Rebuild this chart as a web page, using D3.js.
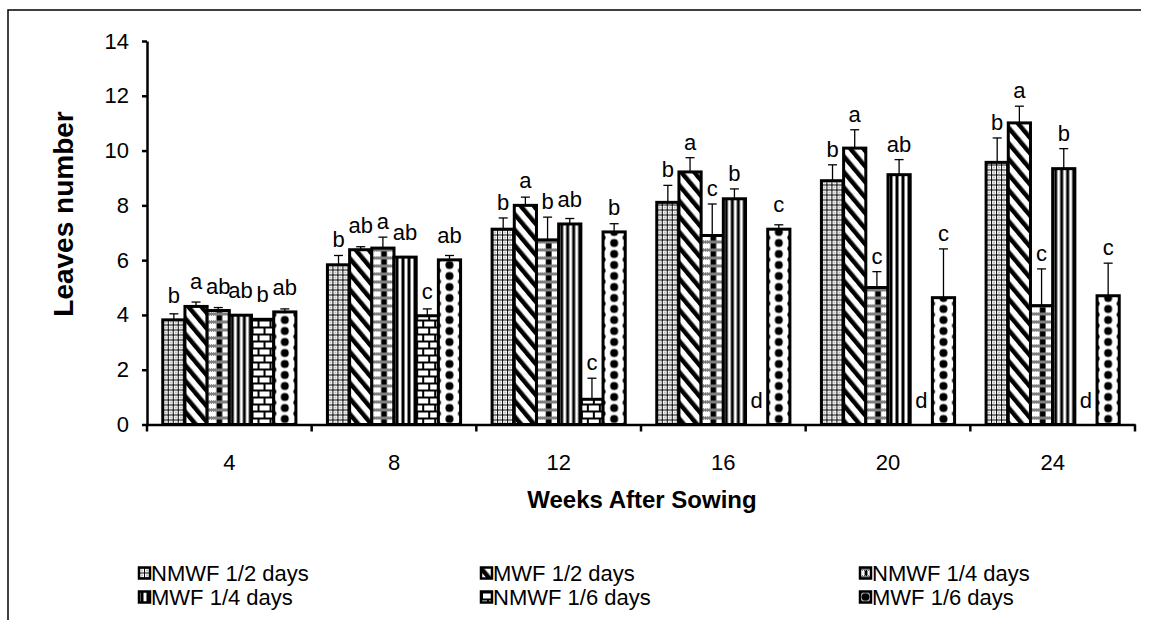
<!DOCTYPE html>
<html>
<head>
<meta charset="utf-8">
<script src="https://cdn.jsdelivr.net/npm/d3@7"></script>
<style>
  html, body { margin: 0; padding: 0; background: #fff; }
  svg { display: block; font-family: "Liberation Sans", Arial, sans-serif; }
</style>
</head>
<body>
<svg id="chart" width="1149" height="620"></svg>
<script>
// ---- data ----
const groups = ["4", "8", "12", "16", "20", "24"];
const seriesNames = ["NMWF 1/2 days", "MWF 1/2 days", "NMWF 1/4 days", "MWF 1/4 days", "NMWF 1/6 days", "MWF 1/6 days"];
const nmwf2 = [3.82, 5.83, 7.13, 8.11, 8.90, 9.57];
const mwf2  = [4.31, 6.38, 8.00, 9.22, 10.09, 11.01];
const nmwf4 = [4.16, 6.44, 6.74, 6.90, 5.00, 4.34];
const mwf4  = [3.99, 6.11, 7.32, 8.24, 9.12, 9.34];
const nmwf6 = [3.84, 3.97, 0.92, 0, 0, 0];
const mwf6  = [4.11, 6.01, 7.03, 7.13, 4.63, 4.70];
const errNmwf2 = [0.22, 0.34, 0.41, 0.62, 0.58, 0.89];
const errMwf2  = [0.16, 0.11, 0.30, 0.52, 0.67, 0.61];
const errNmwf4 = [0.11, 0.40, 0.83, 1.15, 0.58, 1.34];
const errMwf4  = [0.02, 0.02, 0.20, 0.36, 0.55, 0.73];
const errNmwf6 = [0.02, 0.25, 0.77, 0, 0, 0];
const errMwf6  = [0.11, 0.16, 0.30, 0.16, 1.78, 1.19];
const letNmwf2 = ["b", "b", "b", "b", "b", "b"];
const letMwf2  = ["a", "ab", "a", "a", "a", "a"];
const letNmwf4 = ["ab", "a", "b", "c", "c", "c"];
const letMwf4  = ["ab", "ab", "ab", "b", "ab", "b"];
const letNmwf6 = ["b", "c", "c", "d", "d", "d"];
const letMwf6  = ["ab", "ab", "b", "c", "c", "c"];
const yTicks = [0, 2, 4, 6, 8, 10, 12, 14];
const xTitle = "Weeks After Sowing";
const yTitle = "Leaves number";

const values = [nmwf2, mwf2, nmwf4, mwf4, nmwf6, mwf6];
const errors = [errNmwf2, errMwf2, errNmwf4, errMwf4, errNmwf6, errMwf6];
const letters = [letNmwf2, letMwf2, letNmwf4, letMwf4, letNmwf6, letMwf6];

// ---- layout ----
const svg = d3.select("#chart");
const defs = svg.append("defs");
const X0 = 147, X1 = 1135, Y0 = 424.5, Y1 = 41;

const x = d3.scaleBand().domain(groups).range([X0, X1]).paddingInner(0).paddingOuter(0);
const xs = d3.scaleBand().domain(d3.range(6)).range([0, x.bandwidth()]).paddingInner(0).paddingOuter(0.71);
const y = d3.scaleLinear().domain([0, 14]).range([Y0, Y1]);

// ---- patterns ----
function makePattern(id, type, ox, oy, bw) {
  let w, h;
  const p = defs.append("pattern").attr("id", id).attr("patternUnits", "userSpaceOnUse");
  if (type === 0) { // fine mesh
    w = 5; h = 5;
    p.append("rect").attr("width", w).attr("height", h).attr("fill", "#fff");
    p.append("path").attr("d", "M0,0h5v1h-5zM0,1h1v4h-1zM2.5,2.5h1v1h-1z").attr("fill", "#000");
  } else if (type === 1) { // wide downward diagonal
    w = 10; h = 10;
    p.attr("patternTransform", "rotate(-40)");
    p.append("rect").attr("width", w).attr("height", h).attr("fill", "#fff");
    p.append("rect").attr("width", 4.5).attr("height", h).attr("fill", "#000");
  } else if (type === 2) { // central column with checker bands
    w = bw; h = 16;
    p.append("rect").attr("width", w).attr("height", h).attr("fill", "#fff");
    p.append("rect").attr("x", w * 0.42).attr("width", w * 0.26).attr("height", h).attr("fill", "#000");
    let d = "";
    [0, 8].forEach(y0 => {
      for (let i = 0; i < Math.ceil(w); i++) for (let j = 0; j < 3; j++) if ((i + j) % 2 === 0) d += `M${i},${y0 + j}h1v1h-1z`;
    });
    p.append("rect").attr("y", 0).attr("width", w).attr("height", 3).attr("fill", "#fff");
    p.append("rect").attr("y", 8).attr("width", w).attr("height", 3).attr("fill", "#fff");
    p.append("path").attr("d", d).attr("fill", "#000");
  } else if (type === 3) { // vertical stripes
    w = 6; h = 6;
    p.append("rect").attr("width", w).attr("height", h).attr("fill", "#fff");
    p.append("rect").attr("x", 1.5).attr("width", 3).attr("height", h).attr("fill", "#000");
  } else if (type === 4) { // bricks
    w = 12; h = 14;
    p.append("rect").attr("width", w).attr("height", h).attr("fill", "#fff");
    p.append("path").attr("d", "M0,1H12M0,8H12M1,1V8M7,8V14").attr("stroke", "#000").attr("stroke-width", 2).attr("fill", "none");
  } else { // dots
    w = bw; h = 11;
    p.append("rect").attr("width", w).attr("height", h).attr("fill", "#fff");
    p.append("circle").attr("cx", w / 2).attr("cy", 5.5).attr("r", 4).attr("fill", "#000");
    [[0, 0], [w, 0], [0, h], [w, h]].forEach(c => p.append("circle").attr("cx", c[0]).attr("cy", c[1]).attr("r", 2.6).attr("fill", "#000"));
  }
  p.attr("width", w).attr("height", h).attr("x", ox).attr("y", oy);
  return "url(#" + id + ")";
}

// ---- frame ----
svg.append("path").attr("d", "M8,620V10H1141").attr("fill", "none").attr("stroke", "#000").attr("stroke-width", 1.5);

// ---- bars ----
const barsG = svg.append("g");
groups.forEach((g, gi) => {
  values.forEach((vals, si) => {
    const v = vals[gi];
    const bx = x(g) + xs(si);
    const bw = xs.bandwidth();
    const top = y(v);
    if (v > 0) {
      const fill = makePattern(`p${si}_${gi}`, si, bx, Y0, bw);
      barsG.append("rect").attr("x", bx).attr("y", top).attr("width", bw).attr("height", Y0 - top)
        .attr("fill", fill).attr("stroke", "#000").attr("stroke-width", 3);
      const e = errors[si][gi];
      const et = y(v + e);
      const cx = bx + bw / 2;
      barsG.append("line").attr("x1", cx).attr("x2", cx).attr("y1", top).attr("y2", et).attr("stroke", "#000").attr("stroke-width", 1.3);
      barsG.append("line").attr("x1", cx - 4.5).attr("x2", cx + 4.5).attr("y1", et).attr("y2", et).attr("stroke", "#000").attr("stroke-width", 1.3);
    }
  });
});

// ---- letters ----
groups.forEach((g, gi) => {
  values.forEach((vals, si) => {
    const v = vals[gi];
    const cx = x(g) + xs(si) + xs.bandwidth() / 2;
    const top = y(v);
    const et = y(v + errors[si][gi]);
    const by = Math.min(top - 17, et - 8);
    svg.append("text").attr("x", cx).attr("y", by).attr("text-anchor", "middle")
      .attr("font-size", 22).attr("fill", "#000").text(letters[si][gi]);
  });
});

// ---- axes ----
const yAxis = d3.axisLeft(y).tickValues(yTicks).tickSize(5).tickPadding(13).tickSizeOuter(0);
const yG = svg.append("g").attr("transform", `translate(${X0},0)`).call(yAxis);
yG.select(".domain").attr("stroke-width", 2.5);
yG.selectAll(".tick line").attr("stroke-width", 2.5);
yG.selectAll(".tick text").attr("font-size", 22).attr("font-family", "Liberation Sans, Arial, sans-serif").attr("fill", "#000");

const xAxis = d3.axisBottom(x).tickSize(0).tickPadding(30);
const xG = svg.append("g").attr("transform", `translate(0,${Y0})`).call(xAxis);
xG.select(".domain").attr("stroke-width", 2.5);
xG.selectAll(".tick text").attr("font-size", 22).attr("font-family", "Liberation Sans, Arial, sans-serif").attr("fill", "#000");
// group separator ticks
const seps = groups.map(g => x(g)).concat([X1]);
xG.selectAll(".sep").data(seps).join("line").attr("class", "sep")
  .attr("x1", d => d).attr("x2", d => d).attr("y1", 0).attr("y2", 7).attr("stroke", "#000").attr("stroke-width", 2.5);

// ---- titles ----
svg.append("text").attr("x", 642).attr("y", 508).attr("text-anchor", "middle")
  .attr("font-size", 24).attr("font-weight", "bold").text(xTitle);
svg.append("text").attr("transform", "translate(73,214) rotate(-90)").attr("text-anchor", "middle")
  .attr("font-size", 28).attr("font-weight", "bold").text(yTitle);

// ---- legend ----
const legX = [139, 481, 860];
const legY = [573, 597];
seriesNames.forEach((name, i) => {
  const lx = legX[i % 3], ly = legY[Math.floor(i / 3)];
  const fill = makePattern(`leg${i}`, i, lx, ly - 5.5, 11);
  svg.append("rect").attr("x", lx).attr("y", ly - 5.5).attr("width", 11).attr("height", 11)
    .attr("fill", fill).attr("stroke", "#000").attr("stroke-width", 2.5);
  svg.append("text").attr("x", lx + 12).attr("y", ly + 8).attr("font-size", 22).attr("fill", "#000").text(name);
});
</script>
</body>
</html>
